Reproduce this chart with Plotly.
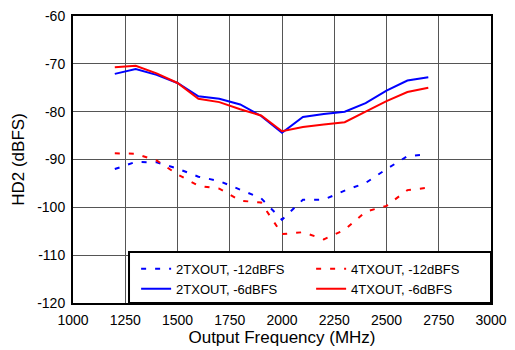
import plotly.graph_objects as go

# Output frequency (MHz)
freq = [1200, 1300, 1400, 1500, 1600, 1700, 1800, 1900,
        2000, 2100, 2200, 2300, 2400, 2500, 2600, 2700]

# HD2 (dBFS) per configuration
tx2_12 = [-92.0, -90.5, -90.6, -91.9, -93.6, -94.5, -96.3, -98.1,
          -102.6, -98.4, -98.4, -96.5, -94.9, -92.0, -89.3, -88.9]
tx4_12 = [-88.7, -88.8, -90.2, -93.1, -95.5, -96.1, -98.6, -99.0,
          -105.6, -105.2, -106.7, -104.7, -100.9, -99.7, -96.4, -95.9]
tx2_6 = [-72.1, -71.1, -72.3, -74.0, -76.8, -77.3, -78.5, -80.9,
         -84.4, -81.1, -80.5, -80.0, -78.2, -75.6, -73.5, -72.8]
tx4_6 = [-70.7, -70.4, -72.0, -74.0, -77.3, -78.0, -79.5, -80.8,
         -84.1, -83.2, -82.7, -82.2, -80.0, -77.8, -75.9, -75.0]

# axis ticks (plain hyphen minus as in the original)
x_ticks = [1000, 1250, 1500, 1750, 2000, 2250, 2500, 2750, 3000]
y_ticks = [-120, -110, -100, -90, -80, -70, -60]

series = [
    ("2TXOUT, -12dBFS", tx2_12, "#0000FF", "5px,9px"),
    ("4TXOUT, -12dBFS", tx4_12, "#FF0000", "5px,9px"),
    ("2TXOUT, -6dBFS", tx2_6, "#0000FF", "solid"),
    ("4TXOUT, -6dBFS", tx4_6, "#FF0000", "solid"),
]

fig = go.Figure()
for name, vals, color, dash in series:
    fig.add_trace(go.Scatter(
        x=freq, y=vals, name=name, mode="lines",
        line=dict(color=color, width=2, dash=dash),
    ))

# the page has an 8px body margin, so the figure is shrunk and margins shifted
font = "Liberation Sans, Arial, sans-serif"
fig.update_layout(
    width=499, height=342,
    margin=dict(l=65, r=16, t=8, b=47),
    plot_bgcolor="white", paper_bgcolor="white",
    font=dict(family=font, size=14, color="black"),
    showlegend=True,
    legend=dict(
        orientation="h", x=0.151, xanchor="left", y=0.084, yanchor="middle",
        bgcolor="rgba(0,0,0,0)", borderwidth=0,
        font=dict(size=13), entrywidth=130, entrywidthmode="pixels",
        tracegroupgap=0,
    ),
)

# legend frame
fig.add_shape(
    type="rect", xref="paper", yref="paper",
    x0=0.134, x1=1, y0=0, y1=0.178,
    fillcolor="white", line=dict(color="black", width=2), layer="above",
)

fig.update_xaxes(
    range=[1000, 3000], tickvals=x_ticks, ticktext=[str(t) for t in x_ticks],
    title=dict(text="Output Frequency (MHz)", standoff=0),
    showgrid=True, gridcolor="#555555", gridwidth=1,
    showline=True, linecolor="black", linewidth=2, mirror=True,
    zeroline=False, ticks="", automargin=False, ticklabelstandoff=3,
    ticklabeloverflow="allow",
)
fig.update_yaxes(
    range=[-120, -60], tickvals=y_ticks, ticktext=[str(t) for t in y_ticks],
    title=dict(text="HD2 (dBFS)", standoff=8),
    showgrid=True, gridcolor="#555555", gridwidth=1,
    showline=True, linecolor="black", linewidth=2, mirror=True,
    zeroline=False, ticks="", automargin=False, ticklabelstandoff=3,
    ticklabeloverflow="allow",
)

fig.write_html("out.html")
